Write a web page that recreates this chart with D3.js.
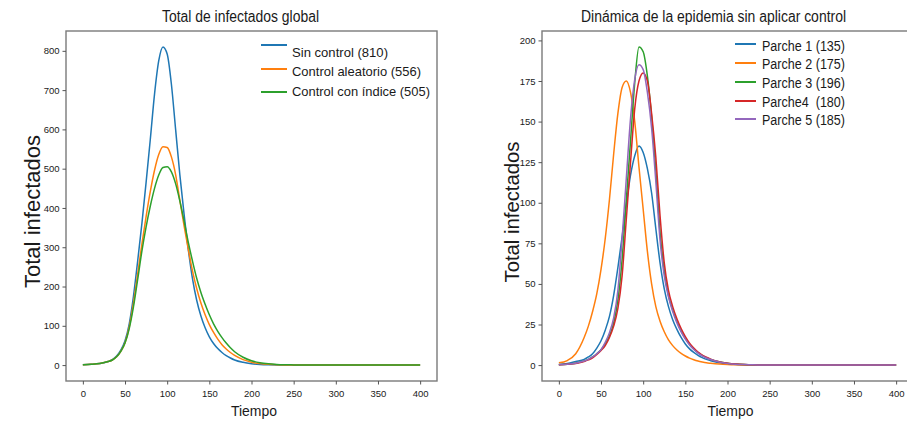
<!DOCTYPE html>
<html>
<head>
<meta charset="utf-8">
<script src="https://cdn.jsdelivr.net/npm/d3@7"></script>
<style>
  body { margin: 0; background: #fff; }
  svg { display: block; }
  text { font-family: "Liberation Sans", Arial, sans-serif; fill: #1a1a1a; }
</style>
</head>
<body>
<svg id="chart" width="907" height="424"></svg>
<script>
// instantes de muestreo, compartidos por todas las series
const tiempo = [0, 10, 20, 30, 35, 40, 45, 50, 55, 60, 65, 70, 75, 80, 85, 90, 95, 100,
  105, 110, 115, 120, 125, 130, 135, 140, 145, 150, 155, 160, 165, 170, 175, 180,
  190, 200, 210, 220, 230, 240, 250, 260, 280, 300, 350, 400];

// total de infectados global
const sinControl = [1, 2, 4, 9, 14, 23, 38, 62, 105, 175, 265, 360, 465, 575, 690, 775, 810, 792,
  715, 600, 485, 385, 295, 220, 165, 125, 95, 72, 55, 42, 32, 24, 18, 13,
  7, 3.5, 1.7, 0.8, 0.4, 0.2, 0.1, 0, 0, 0, 0, 0];
const controlAleatorio = [1, 2, 4, 9, 13, 21, 35, 57, 97, 158, 232, 308, 378, 442, 496, 536, 556, 554,
  530, 485, 420, 355, 295, 240, 195, 158, 128, 103, 83, 66, 52, 41, 32, 24.5,
  14, 7.5, 4, 2, 1, 0.5, 0.25, 0.1, 0, 0, 0, 0];
const controlIndice = [1, 2, 4, 9, 13, 21, 35, 56, 93, 148, 218, 290, 352, 405, 450, 484, 503, 505,
  492, 462, 418, 367, 313, 265, 221, 185, 155, 128, 105, 86, 70, 56, 44, 34,
  20, 11, 6, 3.3, 1.8, 1, 0.5, 0.3, 0.1, 0, 0, 0];
const etiquetasGlobal = ["Sin control (810)", "Control aleatorio (556)", "Control con índice (505)"];

// dinámica por parche, sin control
const parche1 = [0.3, 1, 2.2, 3.5, 5, 7, 10.5, 15, 21.5, 30, 43, 60, 79, 99, 117, 129, 135, 131,
  121, 106, 84, 63, 47, 36, 28, 22, 17, 13, 10, 7.8, 6, 4.6, 3.5, 2.7,
  1.5, 0.8, 0.4, 0.2, 0.1, 0, 0, 0, 0, 0, 0, 0];
const parche2 = [1.4, 2.8, 7, 17, 24, 33, 44, 59, 78, 102, 130, 155, 171, 175, 168, 150, 122, 96,
  70, 50, 36, 27, 20.5, 15.5, 12, 9.3, 7.2, 5.6, 4.3, 3.3, 2.5, 1.9, 1.4, 1.1,
  0.6, 0.3, 0.15, 0.1, 0, 0, 0, 0, 0, 0, 0, 0];
const parche3 = [0.2, 0.5, 1.2, 2.5, 3.5, 5, 7, 9.5, 13, 18, 26, 40, 65, 102, 138, 174, 196, 193,
  178, 153, 120, 82, 58, 43, 34, 27, 21, 16.5, 12.8, 10, 7.7, 6, 4.6, 3.5,
  2, 1.1, 0.6, 0.3, 0.15, 0.1, 0, 0, 0, 0, 0, 0];
const parche4 = [0.2, 0.5, 1, 2.2, 3.2, 4.5, 6.5, 9, 12, 17, 24, 35, 55, 90, 125, 158, 175, 180,
  175, 155, 128, 92, 63, 46, 36, 28.5, 22.5, 17.5, 13.5, 10.5, 8, 6.2, 4.8, 3.7,
  2.1, 1.2, 0.6, 0.3, 0.15, 0.1, 0, 0, 0, 0, 0, 0];
const parche5 = [0.2, 0.5, 1.2, 2.5, 3.5, 5, 7, 9.5, 14, 20, 29, 46, 78, 115, 152, 176, 185, 182,
  168, 146, 113, 77, 55, 42, 33, 26, 20.5, 16, 12.4, 9.6, 7.4, 5.7, 4.4, 3.4,
  1.9, 1, 0.5, 0.3, 0.15, 0.1, 0, 0, 0, 0, 0, 0];
const etiquetasParches = ["Parche 1 (135)", "Parche 2 (175)", "Parche 3 (196)", "Parche4  (180)", "Parche 5 (185)"];

const ticksTiempo = [0, 50, 100, 150, 200, 250, 300, 350, 400];
const ticksGlobal = [0, 100, 200, 300, 400, 500, 600, 700, 800];
const ticksParches = [0, 25, 50, 75, 100, 125, 150, 175, 200];
const colores = ["#1f77b4", "#ff7f0e", "#2ca02c", "#d62728", "#9467bd"];

const svg = d3.select("#chart");

function panel(o) {
  const x = d3.scaleLinear([-20, 420], [o.left, o.left + 371]);
  const y = d3.scaleLinear(o.yDomain, [381, 31]);
  const g = svg.append("g");

  const line = d3.line()
      .x((d, i) => x(tiempo[i]))
      .y(d => y(d))
      .curve(d3.curveMonotoneX);

  g.selectAll("path.serie")
    .data(o.series)
    .join("path")
      .attr("class", "serie")
      .attr("fill", "none")
      .attr("stroke", (d, i) => colores[i])
      .attr("stroke-width", 1.5)
      .attr("d", line);

  g.append("rect")
      .attr("x", o.left).attr("y", 31)
      .attr("width", 371).attr("height", 350)
      .attr("fill", "none")
      .attr("stroke", "#7a7a7a")
      .attr("stroke-width", 1.4);

  const ax = g.append("g")
      .attr("transform", "translate(0,381)")
      .call(d3.axisBottom(x).tickValues(ticksTiempo).tickSize(3.5).tickPadding(5.5));
  const ay = g.append("g")
      .attr("transform", `translate(${o.left},0)`)
      .call(d3.axisLeft(y).tickValues(o.yTicks).tickSize(3.5).tickPadding(3));
  for (const a of [ax, ay]) {
    a.select(".domain").remove();
    a.selectAll(".tick line").attr("stroke", "#555");
    a.selectAll(".tick text")
        .attr("fill", "#222")
        .style("font-family", "'Liberation Sans', Arial, sans-serif")
        .style("font-size", "9.5px");
  }

  g.append("text")
      .attr("x", o.titleX).attr("y", 22)
      .attr("text-anchor", "middle")
      .attr("textLength", o.titleLen)
      .attr("lengthAdjust", "spacingAndGlyphs")
      .style("font-size", "16px")
      .text(o.title);

  g.append("text")
      .attr("x", o.xLabelX).attr("y", 416)
      .attr("text-anchor", "middle")
      .attr("textLength", 46)
      .attr("lengthAdjust", "spacingAndGlyphs")
      .style("font-size", "15.5px")
      .text("Tiempo");

  g.append("text")
      .attr("transform", `translate(${o.yLabelX},${o.yLabelY}) rotate(-90)`)
      .attr("text-anchor", "middle")
      .attr("textLength", o.yLabelLen)
      .attr("lengthAdjust", "spacingAndGlyphs")
      .style("font-size", o.yLabelSize + "px")
      .text("Total infectados");

  const leg = g.append("g");
  o.labels.forEach((lab, i) => {
    leg.append("line")
        .attr("x1", o.legX0).attr("x2", o.legX1)
        .attr("y1", o.legLineY[i]).attr("y2", o.legLineY[i])
        .attr("stroke", colores[i])
        .attr("stroke-width", 2);
    leg.append("text")
        .attr("x", o.legX1 + o.legGap).attr("y", o.legTextY[i])
        .attr("textLength", o.legLen[i])
        .attr("lengthAdjust", "spacingAndGlyphs")
        .style("font-size", o.legSize + "px")
        .style("white-space", "pre")
        .text(lab);
  });
}

panel({
  left: 66,
  yDomain: [-40.5, 850.5],
  yTicks: ticksGlobal,
  series: [sinControl, controlAleatorio, controlIndice],
  labels: etiquetasGlobal,
  title: "Total de infectados global", titleX: 240.5, titleLen: 157,
  xLabelX: 254,
  yLabelX: 40, yLabelY: 211.5, yLabelLen: 153, yLabelSize: 22,
  legX0: 261, legX1: 287, legGap: 5,
  legLineY: [45, 69, 92], legTextY: [57, 76, 95.5],
  legLen: [96, 129, 138], legSize: 13.5
});

panel({
  left: 542,
  yDomain: [-9.8, 205.8],
  yTicks: ticksParches,
  series: [parche1, parche2, parche3, parche4, parche5],
  labels: etiquetasParches,
  title: "Dinámica de la epidemia sin aplicar control", titleX: 713.5, titleLen: 265,
  xLabelX: 730.5,
  yLabelX: 519, yLabelY: 212, yLabelLen: 141, yLabelSize: 20,
  legX0: 735, legX1: 756, legGap: 6,
  legLineY: [44, 63, 82, 101, 119], legTextY: [50.7, 69.3, 87.7, 106.7, 125],
  legLen: [83, 83, 83, 83, 83], legSize: 14
});
</script>
</body>
</html>
